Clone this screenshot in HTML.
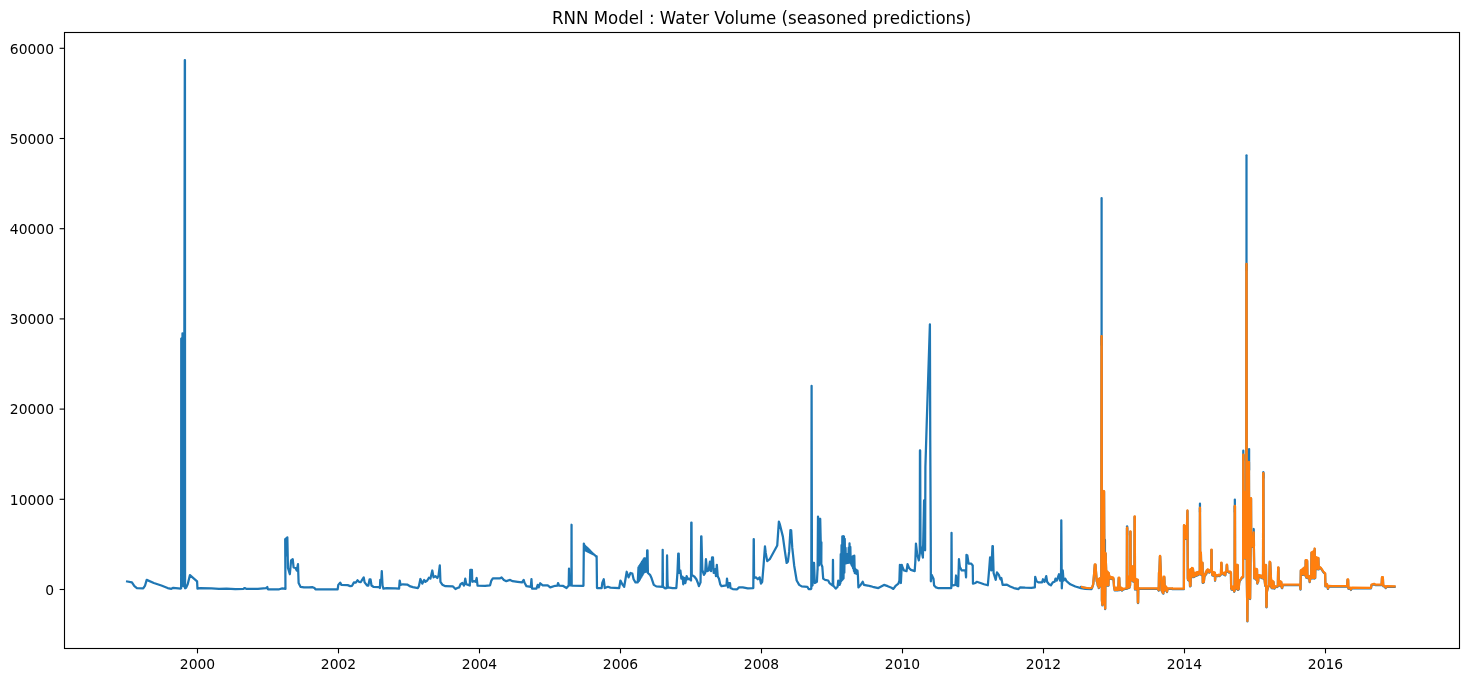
<!DOCTYPE html>
<html lang="en"><head><meta charset="utf-8"><title>RNN Model : Water Volume (seasoned predictions)</title>
<style>html,body{margin:0;padding:0;background:#fff}body{width:1468px;height:682px;overflow:hidden}</style></head>
<body>
<svg width="1468" height="682" viewBox="0 0 1468 682" style="display:block">
<rect width="1468" height="682" fill="#fff"/>
<g fill="none" stroke-width="2.25" stroke-linejoin="round" stroke-linecap="butt">
<path stroke="#1f77b4" d="M126.02,581.27 L131.91,582.40 L134.41,586.16 L136.92,588.16 L143.19,588.29 L145.07,585.53 L146.70,579.89 L153.84,583.02 L161.36,585.53 L167.63,588.04 L171.39,588.79 L173.27,587.79 L180.79,588.54 L181.15,588.35 L181.25,338.55 L181.60,585.35 L182.50,333.35 L183.30,586.35 L184.35,345.35 L184.80,60.15 L184.95,60.15 L185.05,588.35 L186.06,587.79 L187.69,584.28 L189.94,575.13 L197.09,581.39 L197.46,588.66 L200.22,588.04 L211.50,588.41 L219.02,588.79 L226.54,588.54 L235.32,589.04 L243.46,588.79 L244.72,588.04 L246.60,588.91 L257.88,588.79 L266.03,588.04 L267.28,587.03 L267.91,589.29 L279.19,589.29 L282.32,588.41 L285.46,588.79 L285.20,539.15 L286.08,538.52 L286.71,555.45 L287.34,537.27 L287.96,567.98 L289.84,574.25 L291.10,560.46 L292.72,559.21 L293.60,567.35 L295.48,567.98 L296.74,570.49 L297.99,564.22 L298.62,583.02 L300.50,586.78 L304.01,587.41 L308.83,587.41 L312.59,587.16 L314.47,588.04 L315.47,589.29 L337.66,589.29 L338.29,584.90 L340.17,582.65 L341.42,584.90 L347.69,585.15 L350.19,586.16 L352.07,585.78 L353.95,582.40 L355.83,582.65 L357.46,580.26 L358.97,581.77 L360.85,582.02 L362.10,579.89 L363.73,577.38 L364.61,582.40 L367.11,585.53 L368.37,585.53 L369.62,579.26 L370.50,579.26 L371.50,585.53 L373.38,586.78 L379.02,587.16 L379.90,588.04 L380.28,579.89 L381.28,580.52 L381.78,571.11 L382.53,585.53 L383.41,588.66 L386.54,588.04 L395.32,588.29 L399.08,588.66 L399.70,580.52 L400.58,584.90 L402.84,584.28 L407.22,584.53 L410.36,586.41 L412.87,587.16 L417.88,588.04 L418.88,586.16 L420.39,579.01 L422.27,583.65 L424.15,579.89 L425.40,581.77 L427.28,580.52 L428.91,577.76 L430.41,578.64 L432.29,570.49 L433.55,577.38 L435.43,576.13 L437.31,578.01 L438.56,575.50 L439.81,565.47 L440.44,581.77 L442.32,584.65 L445.46,586.16 L452.98,586.41 L455.48,589.04 L457.36,588.04 L459.24,587.41 L460.50,584.28 L462.38,583.02 L464.01,585.53 L464.39,584.28 L465.26,578.64 L466.27,584.28 L468.15,584.90 L469.78,585.53 L470.28,569.86 L471.91,569.86 L472.28,581.77 L474.41,581.14 L475.67,581.77 L476.67,578.01 L477.55,585.53 L485.07,585.91 L490.08,585.28 L491.34,580.52 L492.84,578.26 L500.11,578.26 L501.61,577.38 L503.87,579.89 L506.38,581.14 L510.14,579.89 L512.64,581.14 L517.66,581.77 L522.05,582.40 L523.68,579.89 L524.55,582.77 L526.43,586.16 L530.82,586.78 L531.45,579.01 L532.07,588.66 L536.46,588.66 L537.71,584.90 L538.72,587.41 L540.22,583.27 L542.73,585.28 L547.74,585.28 L550.25,587.41 L555.26,585.78 L557.52,585.53 L558.02,583.02 L559.02,585.53 L562.78,585.78 L566.54,588.04 L568.70,585.55 L569.00,568.65 L569.40,585.35 L571.40,585.35 L571.55,524.75 L571.70,585.55 L583.46,585.78 L583.84,543.54 L584.34,545.04 L584.84,550.06 L585.34,546.05 L585.85,550.56 L586.35,547.05 L586.85,551.06 L587.35,547.93 L587.85,551.56 L588.35,548.93 L588.85,552.06 L589.36,549.93 L589.86,552.56 L590.36,550.93 L590.86,553.06 L591.36,551.94 L591.86,553.57 L592.36,552.94 L592.87,554.07 L593.37,553.94 L593.87,554.57 L594.37,554.82 L594.87,555.32 L595.37,555.82 L595.87,556.32 L596.38,556.83 L596.63,556.32 L597.00,588.04 L601.64,588.04 L602.27,583.02 L603.77,579.26 L604.77,588.04 L607.91,586.78 L610.41,587.66 L619.19,588.04 L620.44,580.52 L622.32,584.28 L624.20,586.78 L625.46,579.26 L626.71,571.74 L628.59,577.38 L630.47,572.99 L632.35,573.62 L633.60,579.26 L635.48,582.40 L637.74,582.40 L638.49,567.35 L638.92,581.04 L639.34,566.00 L639.77,579.60 L640.18,564.66 L640.61,578.16 L641.04,563.31 L641.46,576.70 L641.89,561.95 L642.31,575.26 L642.73,560.61 L643.15,573.81 L643.58,559.26 L644.01,572.37 L644.26,558.33 L644.66,571.94 L645.06,558.43 L645.47,571.84 L645.87,558.53 L646.27,571.74 L646.77,571.74 L647.14,550.43 L647.52,550.43 L647.90,572.99 L650.03,574.87 L651.28,577.38 L652.53,581.14 L653.79,584.90 L656.29,586.41 L662.44,586.78 L662.69,549.81 L662.94,586.78 L665.07,588.29 L666.82,588.04 L667.07,555.45 L667.45,579.26 L667.83,587.41 L672.59,588.04 L676.35,588.04 L677.48,572.37 L678.23,553.57 L678.73,553.57 L679.23,572.99 L680.36,570.49 L681.36,578.64 L682.62,576.76 L683.24,584.28 L684.50,578.01 L685.37,583.02 L686.63,576.13 L687.88,579.26 L689.14,578.64 L691.02,580.52 L691.27,522.61 L691.52,522.61 L691.77,574.87 L694.52,576.76 L696.41,579.26 L697.91,583.02 L698.91,586.16 L700.54,582.40 L701.17,536.39 L701.42,536.39 L702.30,569.86 L703.93,574.87 L705.18,572.99 L705.93,559.21 L707.06,571.11 L708.69,570.49 L709.94,561.71 L711.07,571.11 L712.07,557.33 L712.95,557.33 L713.70,572.99 L715.21,569.23 L715.96,576.13 L716.84,564.85 L717.71,576.13 L718.97,578.64 L720.22,584.28 L721.47,586.16 L726.49,585.28 L726.99,578.64 L727.99,587.41 L728.99,583.02 L730.00,583.02 L730.50,588.04 L732.76,589.04 L737.14,589.29 L739.02,587.41 L742.78,587.41 L747.80,588.29 L753.31,588.04 L753.69,539.15 L753.81,539.15 L754.06,578.01 L755.94,577.38 L757.82,579.26 L759.70,577.38 L760.96,583.65 L762.21,581.77 L763.46,566.73 L764.97,546.42 L765.72,552.94 L767.22,561.09 L769.73,559.21 L772.87,553.57 L777.25,545.42 L778.88,521.60 L779.76,524.11 L782.89,536.64 L784.77,550.43 L786.65,562.97 L787.91,561.71 L789.16,551.69 L790.41,530.13 L791.17,530.38 L792.29,547.93 L794.17,565.47 L796.68,580.52 L799.19,584.90 L801.69,586.41 L807.34,586.78 L808.59,589.04 L811.10,589.04 L811.30,588.35 L811.60,385.85 L811.95,585.35 L812.53,585.53 L813.16,562.97 L814.04,562.97 L814.79,583.02 L816.92,581.77 L817.55,569.23 L817.60,570.35 L818.00,516.55 L819.00,565.35 L820.20,518.75 L820.80,545.35 L821.40,542.35 L821.31,564.22 L822.31,566.73 L823.19,578.64 L825.07,579.89 L828.20,580.52 L829.46,583.02 L832.71,585.53 L832.97,559.83 L833.22,585.53 L835.72,588.66 L837.60,586.78 L838.23,580.52 L839.48,584.90 L840.36,583.02 L840.74,554.19 L841.14,581.29 L841.54,545.22 L841.94,580.33 L842.33,536.26 L842.73,579.37 L843.13,536.11 L843.53,578.41 L843.93,536.34 L844.33,572.71 L844.74,538.83 L845.12,563.59 L845.53,547.84 L845.93,563.39 L846.33,554.19 L846.73,563.19 L847.13,554.19 L847.53,562.99 L847.92,554.19 L848.32,562.79 L848.72,547.51 L849.12,562.59 L849.52,543.41 L849.92,562.39 L850.33,546.96 L850.73,563.42 L851.12,557.77 L851.52,564.90 L851.92,557.11 L852.32,566.38 L852.72,556.46 L853.12,568.49 L853.52,555.81 L853.91,571.04 L854.31,555.70 L854.71,573.07 L855.11,568.56 L855.52,573.40 L855.92,569.72 L856.32,573.71 L856.71,570.22 L857.11,574.04 L857.51,570.74 L857.91,575.50 L858.41,587.41 L860.17,585.53 L862.67,581.77 L863.93,584.90 L867.69,585.53 L870.19,586.16 L872.70,586.78 L878.34,588.04 L883.98,584.90 L887.74,586.16 L891.50,587.79 L893.38,588.91 L895.89,585.53 L898.40,583.65 L899.40,580.52 L899.90,564.85 L900.90,583.02 L901.78,564.85 L902.78,567.98 L904.04,570.49 L906.54,571.11 L907.55,564.22 L909.05,567.98 L910.93,569.86 L914.69,571.11 L915.32,561.71 L915.94,543.54 L917.20,554.19 L918.83,560.46 L919.80,553.35 L919.95,450.45 L920.15,450.45 L920.50,545.35 L922.90,557.55 L924.10,500.35 L925.10,550.35 L925.40,467.05 L926.80,420.85 L929.90,324.35 L930.25,440.35 L930.75,540.35 L930.85,581.35 L931.61,574.87 L933.49,578.64 L934.12,585.53 L936.00,587.41 L937.88,588.04 L951.29,588.04 L951.54,532.88 L951.79,585.53 L955.43,584.90 L956.05,575.50 L956.93,585.53 L958.19,586.16 L958.94,559.21 L959.81,566.73 L961.69,570.49 L965.46,570.49 L966.08,577.38 L966.46,554.82 L967.34,555.45 L968.59,563.59 L971.10,563.59 L972.72,565.47 L972.98,583.65 L975.48,583.02 L976.74,581.77 L980.50,583.02 L984.01,584.28 L987.83,585.28 L989.08,570.49 L990.08,557.33 L991.34,570.49 L992.46,546.05 L992.84,546.05 L993.59,572.99 L995.72,579.89 L996.98,572.37 L998.86,574.87 L1000.36,579.26 L1001.36,578.01 L1002.62,584.90 L1007.00,584.65 L1010.14,586.41 L1013.90,588.04 L1018.29,589.04 L1020.17,587.41 L1025.18,587.66 L1031.45,587.79 L1034.83,587.41 L1035.21,576.76 L1036.46,581.14 L1038.34,582.40 L1042.10,582.40 L1042.98,579.26 L1044.61,581.77 L1046.24,576.13 L1047.11,581.77 L1048.99,584.28 L1050.87,585.28 L1052.76,582.40 L1054.64,581.77 L1055.51,578.64 L1056.77,580.52 L1059.02,574.25 L1060.03,580.52 L1061.00,580.35 L1061.30,520.35 L1061.80,588.35 L1062.78,570.49 L1063.53,580.52 L1065.29,578.64 L1066.54,581.14 L1070.30,584.28 L1075.32,586.53 L1080.96,588.04 L1085.34,588.91 L1091.61,589.04 L1080.95,586.98 L1083.78,588.24 L1089.46,588.75 L1091.98,588.24 L1093.24,584.46 L1094.19,573.11 L1094.82,564.91 L1095.45,564.91 L1096.08,573.11 L1096.71,581.31 L1097.34,582.25 L1097.84,585.72 L1098.41,579.42 L1098.79,588.12 L1099.23,579.10 L1099.61,586.98 L1100.05,578.66 L1101.30,578.50 L1101.50,336.50 L1101.70,336.50 L1101.90,600.50 L1102.40,605.30 L1103.20,560.50 L1103.60,603.50 L1104.05,491.50 L1104.50,600.50 L1105.20,609.10 L1105.60,553.50 L1106.17,570.90 L1106.49,585.44 L1106.81,571.53 L1107.14,585.53 L1107.46,572.16 L1107.78,585.60 L1108.11,572.80 L1108.43,585.68 L1108.75,573.43 L1109.32,577.52 L1109.51,577.02 L1109.82,578.55 L1110.13,577.22 L1110.44,578.69 L1110.75,577.41 L1111.06,578.84 L1111.37,577.60 L1111.68,578.98 L1111.99,577.80 L1112.30,579.13 L1112.61,577.99 L1112.93,579.27 L1113.23,578.19 L1113.54,579.42 L1114.05,586.98 L1114.36,588.24 L1114.68,590.45 L1114.99,588.24 L1115.31,590.45 L1115.62,588.24 L1115.94,590.45 L1116.25,588.24 L1116.57,590.45 L1116.89,588.24 L1117.20,590.45 L1117.52,588.24 L1117.83,590.45 L1118.27,590.13 L1118.71,578.03 L1119.22,578.03 L1119.72,590.13 L1120.35,588.56 L1120.98,587.99 L1121.49,590.13 L1121.99,590.51 L1122.50,588.87 L1123.51,589.63 L1124.45,589.00 L1126.03,588.87 L1126.80,588.20 L1126.98,528.10 L1127.22,528.10 L1127.40,588.50 L1127.92,577.21 L1128.23,588.14 L1128.55,577.21 L1128.87,587.93 L1129.18,577.21 L1129.50,587.72 L1129.81,577.21 L1130.10,585.50 L1130.28,531.80 L1130.52,531.80 L1130.70,579.50 L1131.58,566.81 L1131.91,580.36 L1132.25,566.81 L1132.59,580.99 L1132.92,566.81 L1133.26,581.62 L1133.59,566.81 L1134.40,581.50 L1134.58,516.90 L1134.82,516.90 L1135.00,589.50 L1135.99,579.42 L1136.29,589.61 L1136.58,579.62 L1136.87,589.82 L1137.17,579.84 L1137.46,590.03 L1137.76,580.05 L1137.70,590.50 L1137.88,603.10 L1138.12,603.10 L1138.30,588.50 L1139.27,588.56 L1157.68,588.87 L1158.75,590.64 L1159.00,572.86 L1159.38,572.86 L1159.95,556.40 L1160.15,556.40 L1161.21,581.94 L1161.51,590.70 L1161.82,581.94 L1162.12,591.84 L1162.42,581.94 L1162.72,592.97 L1163.35,593.60 L1163.73,577.21 L1164.30,577.21 L1164.80,590.76 L1166.07,586.98 L1167.01,592.03 L1167.64,588.87 L1171.99,588.75 L1172.00,589.09 L1183.79,589.09 L1183.90,589.00 L1184.00,525.60 L1184.60,538.50 L1185.10,526.50 L1185.60,539.00 L1186.10,527.00 L1186.60,538.50 L1187.45,510.90 L1187.80,578.50 L1188.08,580.13 L1188.52,570.68 L1189.02,580.76 L1189.53,570.05 L1190.03,586.44 L1190.54,586.12 L1190.92,569.42 L1191.42,577.61 L1191.92,568.28 L1192.43,576.35 L1192.93,568.78 L1193.31,573.83 L1193.62,577.08 L1193.94,573.65 L1194.24,576.79 L1194.56,573.46 L1194.87,576.49 L1195.18,573.27 L1195.49,576.19 L1195.80,573.09 L1196.12,575.90 L1196.43,572.90 L1196.74,575.60 L1197.05,572.72 L1197.36,575.30 L1197.67,572.53 L1197.98,575.01 L1198.30,572.35 L1198.61,574.71 L1199.80,571.50 L1199.95,508.00 L1200.20,560.50 L1200.25,574.46 L1200.88,552.77 L1201.38,575.09 L1202.26,563.11 L1202.52,563.11 L1202.77,582.97 L1203.84,582.34 L1204.47,576.04 L1204.91,574.46 L1205.42,575.41 L1205.92,572.25 L1206.43,573.83 L1206.80,570.55 L1207.31,572.25 L1207.69,569.92 L1208.19,571.94 L1208.70,570.42 L1209.33,572.69 L1209.83,571.05 L1211.20,570.50 L1211.38,550.00 L1211.62,550.00 L1211.80,571.50 L1212.35,575.41 L1212.86,572.32 L1213.36,575.72 L1213.87,572.57 L1214.37,576.04 L1214.88,573.07 L1215.06,580.76 L1215.51,575.72 L1216.14,576.04 L1216.77,575.41 L1217.71,576.23 L1218.66,575.22 L1219.60,576.04 L1220.42,574.96 L1220.93,574.77 L1221.24,563.11 L1221.50,563.11 L1221.81,571.94 L1222.44,572.95 L1223.39,574.46 L1224.33,573.32 L1225.28,575.41 L1225.72,572.25 L1226.48,571.94 L1226.79,565.06 L1227.04,565.06 L1227.36,571.31 L1228.12,571.94 L1229.06,572.69 L1230.01,571.94 L1230.95,572.88 L1231.14,588.33 L1231.27,587.07 L1231.60,589.63 L1231.93,587.07 L1232.26,589.71 L1232.59,587.07 L1232.92,589.79 L1233.25,587.07 L1233.59,589.87 L1233.92,587.07 L1234.17,591.80 L1234.55,590.90 L1234.73,506.40 L1234.97,506.40 L1235.15,588.30 L1235.81,565.38 L1236.12,588.56 L1236.42,565.38 L1236.73,589.01 L1237.03,565.38 L1237.34,589.46 L1237.64,565.38 L1237.95,589.91 L1238.71,589.28 L1239.15,583.29 L1239.78,580.76 L1240.73,579.82 L1241.99,577.61 L1243.10,577.50 L1243.25,455.00 L1243.50,455.00 L1243.70,558.50 L1244.80,492.50 L1245.10,558.50 L1245.80,557.50 L1246.30,520.50 L1246.40,264.30 L1246.60,264.30 L1246.80,575.50 L1247.40,621.40 L1248.00,540.50 L1248.50,597.50 L1248.95,462.30 L1249.30,596.50 L1249.70,540.50 L1250.10,599.10 L1250.60,550.50 L1250.90,498.50 L1251.05,498.50 L1251.25,546.50 L1252.80,547.00 L1253.70,532.80 L1254.30,578.50 L1255.01,578.24 L1255.51,569.42 L1255.89,579.50 L1256.27,569.42 L1256.65,580.13 L1257.02,569.73 L1257.34,583.60 L1257.78,576.98 L1258.16,582.03 L1258.54,575.72 L1259.23,577.30 L1259.86,575.72 L1260.49,577.49 L1261.12,576.04 L1261.75,577.61 L1262.19,578.24 L1263.03,578.50 L1263.21,473.60 L1263.45,473.60 L1263.63,570.50 L1265.22,585.81 L1265.60,565.38 L1265.98,565.38 L1266.23,585.81 L1266.20,585.50 L1266.38,607.30 L1266.62,607.30 L1266.80,592.50 L1267.74,588.33 L1268.69,586.12 L1269.13,585.81 L1269.70,562.23 L1270.20,562.48 L1270.64,571.94 L1270.90,576.98 L1271.34,587.70 L1271.72,580.76 L1272.16,588.33 L1272.60,581.40 L1273.04,588.02 L1273.48,582.03 L1273.92,588.20 L1274.36,588.65 L1275.31,586.75 L1277.20,587.07 L1277.83,586.44 L1278.15,567.90 L1278.46,567.90 L1278.71,582.03 L1279.09,583.92 L1279.60,581.71 L1280.10,585.81 L1280.67,581.90 L1281.30,582.34 L1281.74,588.02 L1282.12,588.20 L1282.62,585.81 L1283.00,585.18 L1299.90,585.18 L1300.53,589.59 L1300.84,570.68 L1301.16,575.09 L1301.63,570.29 L1302.11,574.93 L1302.58,569.49 L1303.05,574.77 L1303.52,568.71 L1304.00,574.62 L1304.47,567.91 L1304.94,574.46 L1305.45,575.72 L1305.70,560.59 L1306.20,577.61 L1306.71,560.59 L1307.15,560.90 L1307.47,578.24 L1309.04,576.35 L1309.67,582.03 L1310.62,576.98 L1311.12,578.24 L1311.53,552.78 L1311.94,578.32 L1312.35,552.32 L1312.76,578.40 L1313.17,551.84 L1313.58,578.48 L1313.99,551.37 L1314.40,578.56 L1314.70,549.00 L1315.16,578.24 L1315.54,557.44 L1315.85,568.78 L1316.20,557.56 L1316.56,568.94 L1316.92,557.79 L1317.27,569.10 L1317.62,558.03 L1317.98,569.26 L1318.34,558.26 L1318.69,569.42 L1318.81,566.89 L1320.71,568.15 L1323.23,571.94 L1325.12,573.83 L1325.44,586.44 L1327.01,584.55 L1327.96,588.96 L1328.90,586.44 L1331.99,586.57 L1347.14,586.50 L1347.52,579.98 L1348.14,579.98 L1348.40,588.76 L1350.28,588.13 L1350.90,590.01 L1351.78,588.13 L1370.96,588.38 L1371.58,585.00 L1374.09,584.37 L1375.34,585.00 L1381.61,585.00 L1381.99,577.73 L1382.87,577.73 L1383.24,586.25 L1384.75,586.25 L1385.62,588.13 L1386.63,586.63 L1395.65,586.88"/>
<path stroke="#1f77b4" stroke-linecap="round" d="M1101.60,345.00 L1101.60,198.00"/>
<path stroke="#1f77b4" stroke-linecap="round" d="M1104.95,556.00 L1104.95,539.90"/>
<path stroke="#1f77b4" stroke-linecap="round" d="M1127.10,535.00 L1127.10,526.30"/>
<path stroke="#1f77b4" stroke-linecap="round" d="M1199.95,512.00 L1199.95,503.70"/>
<path stroke="#1f77b4" stroke-linecap="round" d="M1234.85,512.00 L1234.85,499.60"/>
<path stroke="#1f77b4" stroke-linecap="round" d="M1243.30,460.00 L1243.30,450.70"/>
<path stroke="#1f77b4" stroke-linecap="round" d="M1246.50,270.00 L1246.50,155.30"/>
<path stroke="#1f77b4" stroke-linecap="round" d="M1249.10,470.00 L1249.10,449.10"/>
<path stroke="#1f77b4" stroke-linecap="round" d="M1253.20,546.00 L1253.70,529.00 L1254.00,546.00"/>
<path stroke="#1f77b4" stroke-linecap="round" d="M1263.33,478.00 L1263.33,472.20"/>
<path stroke="#ff7f0e" d="M1080.95,586.48 L1083.78,587.74 L1089.46,588.25 L1091.98,587.74 L1093.24,583.96 L1094.19,572.61 L1094.82,564.41 L1095.45,564.41 L1096.08,572.61 L1096.71,580.81 L1097.34,581.75 L1097.84,585.22 L1098.41,578.92 L1098.79,587.62 L1099.23,578.60 L1099.61,586.48 L1100.05,578.16 L1101.30,578.00 L1101.50,336.00 L1101.70,336.00 L1101.90,600.00 L1102.40,604.80 L1103.20,560.00 L1103.60,603.00 L1104.05,491.00 L1104.50,600.00 L1105.20,608.60 L1105.60,553.00 L1106.17,570.40 L1106.49,584.94 L1106.81,571.03 L1107.14,585.03 L1107.46,571.66 L1107.78,585.10 L1108.11,572.30 L1108.43,585.18 L1108.75,572.93 L1109.32,577.02 L1109.51,576.52 L1109.82,578.05 L1110.13,576.72 L1110.44,578.19 L1110.75,576.91 L1111.06,578.34 L1111.37,577.10 L1111.68,578.48 L1111.99,577.30 L1112.30,578.63 L1112.61,577.49 L1112.93,578.77 L1113.23,577.69 L1113.54,578.92 L1114.05,586.48 L1114.36,587.74 L1114.68,589.95 L1114.99,587.74 L1115.31,589.95 L1115.62,587.74 L1115.94,589.95 L1116.25,587.74 L1116.57,589.95 L1116.89,587.74 L1117.20,589.95 L1117.52,587.74 L1117.83,589.95 L1118.27,589.63 L1118.71,577.53 L1119.22,577.53 L1119.72,589.63 L1120.35,588.06 L1120.98,587.49 L1121.49,589.63 L1121.99,590.01 L1122.50,588.37 L1123.51,589.13 L1124.45,588.50 L1126.03,588.37 L1126.80,587.70 L1126.98,527.60 L1127.22,527.60 L1127.40,588.00 L1127.92,576.71 L1128.23,587.64 L1128.55,576.71 L1128.87,587.43 L1129.18,576.71 L1129.50,587.22 L1129.81,576.71 L1130.10,585.00 L1130.28,531.30 L1130.52,531.30 L1130.70,579.00 L1131.58,566.31 L1131.91,579.86 L1132.25,566.31 L1132.59,580.49 L1132.92,566.31 L1133.26,581.12 L1133.59,566.31 L1134.40,581.00 L1134.58,516.40 L1134.82,516.40 L1135.00,589.00 L1135.99,578.92 L1136.29,589.11 L1136.58,579.12 L1136.87,589.32 L1137.17,579.34 L1137.46,589.53 L1137.76,579.55 L1137.70,590.00 L1137.88,602.60 L1138.12,602.60 L1138.30,588.00 L1139.27,588.06 L1157.68,588.37 L1158.75,590.14 L1159.00,572.36 L1159.38,572.36 L1159.95,555.90 L1160.15,555.90 L1161.21,581.44 L1161.51,590.20 L1161.82,581.44 L1162.12,591.34 L1162.42,581.44 L1162.72,592.47 L1163.35,593.10 L1163.73,576.71 L1164.30,576.71 L1164.80,590.26 L1166.07,586.48 L1167.01,591.53 L1167.64,588.37 L1171.99,588.25 L1172.00,588.59 L1183.79,588.59 L1183.90,588.50 L1184.00,525.10 L1184.60,538.00 L1185.10,526.00 L1185.60,538.50 L1186.10,526.50 L1186.60,538.00 L1187.45,510.40 L1187.80,578.00 L1188.08,579.63 L1188.52,570.18 L1189.02,580.26 L1189.53,569.55 L1190.03,585.94 L1190.54,585.62 L1190.92,568.92 L1191.42,577.11 L1191.92,567.78 L1192.43,575.85 L1192.93,568.28 L1193.31,573.33 L1193.62,576.58 L1193.94,573.15 L1194.24,576.29 L1194.56,572.96 L1194.87,575.99 L1195.18,572.77 L1195.49,575.69 L1195.80,572.59 L1196.12,575.40 L1196.43,572.40 L1196.74,575.10 L1197.05,572.22 L1197.36,574.80 L1197.67,572.03 L1197.98,574.51 L1198.30,571.85 L1198.61,574.21 L1199.80,571.00 L1199.95,507.50 L1200.20,560.00 L1200.25,573.96 L1200.88,552.27 L1201.38,574.59 L1202.26,562.61 L1202.52,562.61 L1202.77,582.47 L1203.84,581.84 L1204.47,575.54 L1204.91,573.96 L1205.42,574.91 L1205.92,571.75 L1206.43,573.33 L1206.80,570.05 L1207.31,571.75 L1207.69,569.42 L1208.19,571.44 L1208.70,569.92 L1209.33,572.19 L1209.83,570.55 L1211.20,570.00 L1211.38,549.50 L1211.62,549.50 L1211.80,571.00 L1212.35,574.91 L1212.86,571.82 L1213.36,575.22 L1213.87,572.07 L1214.37,575.54 L1214.88,572.57 L1215.06,580.26 L1215.51,575.22 L1216.14,575.54 L1216.77,574.91 L1217.71,575.73 L1218.66,574.72 L1219.60,575.54 L1220.42,574.46 L1220.93,574.27 L1221.24,562.61 L1221.50,562.61 L1221.81,571.44 L1222.44,572.45 L1223.39,573.96 L1224.33,572.82 L1225.28,574.91 L1225.72,571.75 L1226.48,571.44 L1226.79,564.56 L1227.04,564.56 L1227.36,570.81 L1228.12,571.44 L1229.06,572.19 L1230.01,571.44 L1230.95,572.38 L1231.14,587.83 L1231.27,586.57 L1231.60,589.13 L1231.93,586.57 L1232.26,589.21 L1232.59,586.57 L1232.92,589.29 L1233.25,586.57 L1233.59,589.37 L1233.92,586.57 L1234.17,591.30 L1234.55,590.40 L1234.73,505.90 L1234.97,505.90 L1235.15,587.80 L1235.81,564.88 L1236.12,588.06 L1236.42,564.88 L1236.73,588.51 L1237.03,564.88 L1237.34,588.96 L1237.64,564.88 L1237.95,589.41 L1238.71,588.78 L1239.15,582.79 L1239.78,580.26 L1240.73,579.32 L1241.99,577.11 L1243.10,577.00 L1243.25,454.50 L1243.50,454.50 L1243.70,558.00 L1244.80,492.00 L1245.10,558.00 L1245.80,557.00 L1246.30,520.00 L1246.40,263.80 L1246.60,263.80 L1246.80,575.00 L1247.40,620.90 L1248.00,540.00 L1248.50,597.00 L1248.95,461.80 L1249.30,596.00 L1249.70,540.00 L1250.10,598.60 L1250.60,550.00 L1250.90,498.00 L1251.05,498.00 L1251.25,546.00 L1252.80,546.50 L1253.70,532.30 L1254.30,578.00 L1255.01,577.74 L1255.51,568.92 L1255.89,579.00 L1256.27,568.92 L1256.65,579.63 L1257.02,569.23 L1257.34,583.10 L1257.78,576.48 L1258.16,581.53 L1258.54,575.22 L1259.23,576.80 L1259.86,575.22 L1260.49,576.99 L1261.12,575.54 L1261.75,577.11 L1262.19,577.74 L1263.03,578.00 L1263.21,473.10 L1263.45,473.10 L1263.63,570.00 L1265.22,585.31 L1265.60,564.88 L1265.98,564.88 L1266.23,585.31 L1266.20,585.00 L1266.38,606.80 L1266.62,606.80 L1266.80,592.00 L1267.74,587.83 L1268.69,585.62 L1269.13,585.31 L1269.70,561.73 L1270.20,561.98 L1270.64,571.44 L1270.90,576.48 L1271.34,587.20 L1271.72,580.26 L1272.16,587.83 L1272.60,580.90 L1273.04,587.52 L1273.48,581.53 L1273.92,587.70 L1274.36,588.15 L1275.31,586.25 L1277.20,586.57 L1277.83,585.94 L1278.15,567.40 L1278.46,567.40 L1278.71,581.53 L1279.09,583.42 L1279.60,581.21 L1280.10,585.31 L1280.67,581.40 L1281.30,581.84 L1281.74,587.52 L1282.12,587.70 L1282.62,585.31 L1283.00,584.68 L1299.90,584.68 L1300.53,589.09 L1300.84,570.18 L1301.16,574.59 L1301.63,569.79 L1302.11,574.43 L1302.58,568.99 L1303.05,574.27 L1303.52,568.21 L1304.00,574.12 L1304.47,567.41 L1304.94,573.96 L1305.45,575.22 L1305.70,560.09 L1306.20,577.11 L1306.71,560.09 L1307.15,560.40 L1307.47,577.74 L1309.04,575.85 L1309.67,581.53 L1310.62,576.48 L1311.12,577.74 L1311.53,552.28 L1311.94,577.82 L1312.35,551.82 L1312.76,577.90 L1313.17,551.34 L1313.58,577.98 L1313.99,550.87 L1314.40,578.06 L1314.70,548.50 L1315.16,577.74 L1315.54,556.94 L1315.85,568.28 L1316.20,557.06 L1316.56,568.44 L1316.92,557.29 L1317.27,568.60 L1317.62,557.53 L1317.98,568.76 L1318.34,557.76 L1318.69,568.92 L1318.81,566.39 L1320.71,567.65 L1323.23,571.44 L1325.12,573.33 L1325.44,585.94 L1327.01,584.05 L1327.96,588.46 L1328.90,585.94 L1331.99,586.07 L1347.14,586.00 L1347.52,579.48 L1348.14,579.48 L1348.40,588.26 L1350.28,587.63 L1350.90,589.51 L1351.78,587.63 L1370.96,587.88 L1371.58,584.50 L1374.09,583.87 L1375.34,584.50 L1381.61,584.50 L1381.99,577.23 L1382.87,577.23 L1383.24,585.75 L1384.75,585.75 L1385.62,587.63 L1386.63,586.13 L1395.65,586.38"/>
</g>
<g stroke="#000" stroke-width="1.111" fill="none">
<path d="M197.5,648.5 v4.86"/>
<path d="M338.5,648.5 v4.86"/>
<path d="M479.5,648.5 v4.86"/>
<path d="M620.5,648.5 v4.86"/>
<path d="M761.5,648.5 v4.86"/>
<path d="M902.5,648.5 v4.86"/>
<path d="M1043.5,648.5 v4.86"/>
<path d="M1184.5,648.5 v4.86"/>
<path d="M1325.5,648.5 v4.86"/>
<path d="M64.5,589.5 h-4.86"/>
<path d="M64.5,499.3 h-4.86"/>
<path d="M64.5,409.1 h-4.86"/>
<path d="M64.5,318.9 h-4.86"/>
<path d="M64.5,228.7 h-4.86"/>
<path d="M64.5,138.5 h-4.86"/>
<path d="M64.5,48.3 h-4.86"/>
<rect x="64.5" y="32.5" width="1395.0" height="616.0" stroke-linejoin="miter"/>
</g>
<g font-family="'DejaVu Sans', 'Liberation Sans', sans-serif" font-size="13.89px" fill="#000">
<text x="197.5" y="668.6" text-anchor="middle">2000</text>
<text x="338.5" y="668.6" text-anchor="middle">2002</text>
<text x="479.5" y="668.6" text-anchor="middle">2004</text>
<text x="620.5" y="668.6" text-anchor="middle">2006</text>
<text x="761.5" y="668.6" text-anchor="middle">2008</text>
<text x="902.5" y="668.6" text-anchor="middle">2010</text>
<text x="1043.5" y="668.6" text-anchor="middle">2012</text>
<text x="1184.5" y="668.6" text-anchor="middle">2014</text>
<text x="1325.5" y="668.6" text-anchor="middle">2016</text>
<text x="54.0" y="594.8" text-anchor="end">0</text>
<text x="54.0" y="504.6" text-anchor="end">10000</text>
<text x="54.0" y="414.4" text-anchor="end">20000</text>
<text x="54.0" y="324.2" text-anchor="end">30000</text>
<text x="54.0" y="234.0" text-anchor="end">40000</text>
<text x="54.0" y="143.8" text-anchor="end">50000</text>
<text x="54.0" y="53.6" text-anchor="end">60000</text>
</g>
<text transform="translate(761.6,24.3) scale(0.9985,1.07)" text-anchor="middle" font-family="'DejaVu Sans', 'Liberation Sans', sans-serif" font-size="16.67px" fill="#000">RNN Model : Water Volume (seasoned predictions)</text>
</svg>
</body></html>
